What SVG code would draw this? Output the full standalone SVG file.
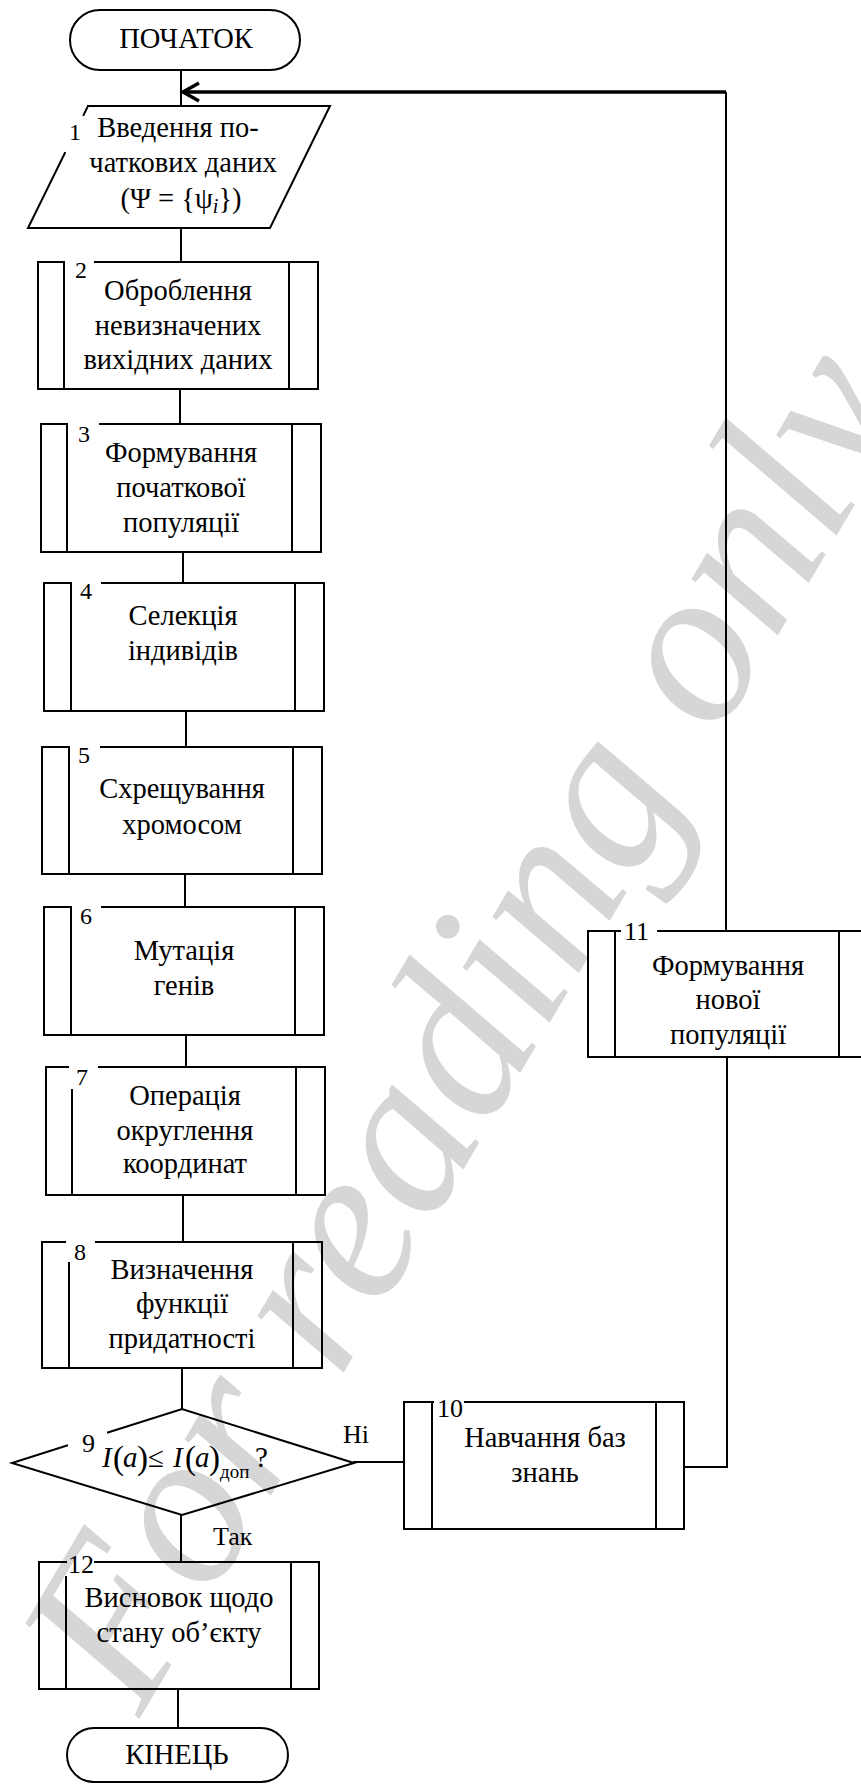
<svg xmlns="http://www.w3.org/2000/svg" width="861" height="1784" viewBox="0 0 861 1784">
<style>
.ln{fill:none;stroke:#000;stroke-width:2;stroke-linecap:square}
text{font-family:"Liberation Serif","Tinos","Times New Roman","DejaVu Serif","Noto Serif",serif}
.t{font-size:28.5px;fill:#000;text-anchor:middle}
.n{font-size:24px;fill:#000}
.n2{font-size:26px;fill:#000}
.m{font-size:29px;fill:#000}
.i{font-style:italic}
.wm{font-style:italic;font-size:224px;fill:#d6d6d6}
</style>
<rect width="861" height="1784" fill="#fff"/>
<text class="wm" transform="translate(140 1718) rotate(-59.5)">For reading only</text>

<g id="connectors">
<path class="ln" d="M181 70V106"/>
<path d="M726 92H183" fill="none" stroke="#000" stroke-width="3.5"/>
<polyline points="199,83 183,92 199,101" fill="none" stroke="#000" stroke-width="3.5"/>
<path class="ln" d="M181 228V262"/>
<path class="ln" d="M180 389V424"/>
<path class="ln" d="M183 552V583"/>
<path class="ln" d="M186 711V747"/>
<path class="ln" d="M185 874V907"/>
<path class="ln" d="M186 1035V1067"/>
<path class="ln" d="M183 1195V1242"/>
<path class="ln" d="M182 1368V1409"/>
<path class="ln" d="M181 1515V1562"/>
<path class="ln" d="M178 1689V1728"/>
<path class="ln" d="M354 1462H404"/>
<path class="ln" d="M684 1467H727V1057"/>
<path class="ln" d="M726 931V93"/>
<text class="n2" x="343" y="1443">Ні</text>
<text class="n2" x="213" y="1545">Так</text>
</g>

<g id="start">
<rect class="ln" x="70" y="10" width="230" height="60" rx="30"/>
<text class="t" x="186" y="48">ПОЧАТОК</text>
</g>

<g id="node1">
<path class="ln" d="M88 106H330L270 228H28L64.9 153M83.6 115L88 106"/>
<text class="n" x="69" y="140">1</text>
<text class="t" x="178" y="137">Введення по-</text>
<text class="t" x="183" y="172">чаткових даних</text>
<text class="t" x="181" y="208">(Ψ = {ψ<tspan dy="5" font-size="20" class="i">i</tspan><tspan dy="-5">})</tspan></text>
</g>

<g id="node2">
<path class="ln" d="M64 262H38V389H318V262H95M64 262V389M289 262V389"/>
<text class="n" x="75" y="278">2</text>
<text class="t" x="178" y="300">Оброблення</text>
<text class="t" x="178" y="335">невизначених</text>
<text class="t" x="178" y="369">вихідних даних</text>
</g>

<g id="node3">
<path class="ln" d="M67 424H41V552H321V424H100M67 424V552M292 424V552"/>
<text class="n" x="78" y="442">3</text>
<text class="t" x="181" y="462">Формування</text>
<text class="t" x="181" y="497">початкової</text>
<text class="t" x="181" y="532">популяції</text>
</g>

<g id="node4">
<path class="ln" d="M71 583H44V711H324V583H102M71 583V711M295 583V711"/>
<text class="n" x="80" y="599">4</text>
<text class="t" x="183" y="625">Селекція</text>
<text class="t" x="183" y="660">індивідів</text>
</g>

<g id="node5">
<path class="ln" d="M69 747H42V874H322V747H101M69 747V874M293 747V874"/>
<text class="n" x="78" y="763">5</text>
<text class="t" x="182" y="798">Схрещування</text>
<text class="t" x="182" y="834">хромосом</text>
</g>

<g id="node6">
<path class="ln" d="M71 907H44V1035H324V907H102M71 907V1035M295 907V1035"/>
<text class="n" x="80" y="924">6</text>
<text class="t" x="184" y="960">Мутація</text>
<text class="t" x="184" y="995">генів</text>
</g>

<g id="node7">
<path class="ln" d="M68 1067H46V1195H325V1067H99M72 1090V1195M296 1067V1195"/>
<text class="n" x="76" y="1085">7</text>
<text class="t" x="185" y="1105">Операція</text>
<text class="t" x="185" y="1140">округлення</text>
<text class="t" x="185" y="1173">координат</text>
</g>

<g id="node8">
<path class="ln" d="M65 1242H42V1368H322V1242H96M69 1263V1368M293 1242V1368"/>
<text class="n" x="74" y="1260">8</text>
<text class="t" x="182" y="1279">Визначення</text>
<text class="t" x="182" y="1313">функції</text>
<text class="t" x="182" y="1348">придатності</text>
</g>

<g id="node9">
<path class="ln" d="M67 1445.5L12 1463L182 1515L354 1463L182 1409L108 1432.5"/>
<text class="n2" x="82" y="1452">9</text>
<text class="m"><tspan x="102" y="1467" class="i">I</tspan><tspan x="113" y="1469" font-size="33">(</tspan><tspan x="123" y="1467" class="i">a</tspan><tspan x="137" y="1469" font-size="33">)</tspan><tspan x="148" y="1467">≤</tspan><tspan x="173" y="1467" class="i">I</tspan><tspan x="185" y="1469" font-size="33">(</tspan><tspan x="195" y="1467" class="i">a</tspan><tspan x="209" y="1469" font-size="33">)</tspan><tspan x="220" y="1478" font-size="19">доп</tspan><tspan x="255" y="1467">?</tspan></text>
</g>

<g id="node10">
<path class="ln" d="M433 1402H404V1529H684V1402H465M432 1402V1529M656 1402V1529"/>
<text class="n2" x="437" y="1417">10</text>
<text class="t" x="545" y="1447">Навчання баз</text>
<text class="t" x="545" y="1482">знань</text>
</g>

<g id="node11">
<path class="ln" d="M620 931H588V1057H862M658 931H862M615 931V1057M839 931V1057"/>
<text class="n2" x="624" y="940">11</text>
<text class="t" x="728" y="975">Формування</text>
<text class="t" x="728" y="1009">нової</text>
<text class="t" x="728" y="1044">популяції</text>
</g>

<g id="node12">
<path class="ln" d="M66 1562H39V1689H319V1562H95M66 1577V1689M291 1562V1689"/>
<text class="n2" x="68" y="1573">12</text>
<text class="t" x="179" y="1607">Висновок щодо</text>
<text class="t" x="179" y="1642">стану об’єкту</text>
</g>

<g id="end">
<rect class="ln" x="67" y="1728" width="221" height="54" rx="27"/>
<text class="t" x="177" y="1764">КІНЕЦЬ</text>
</g>
</svg>
